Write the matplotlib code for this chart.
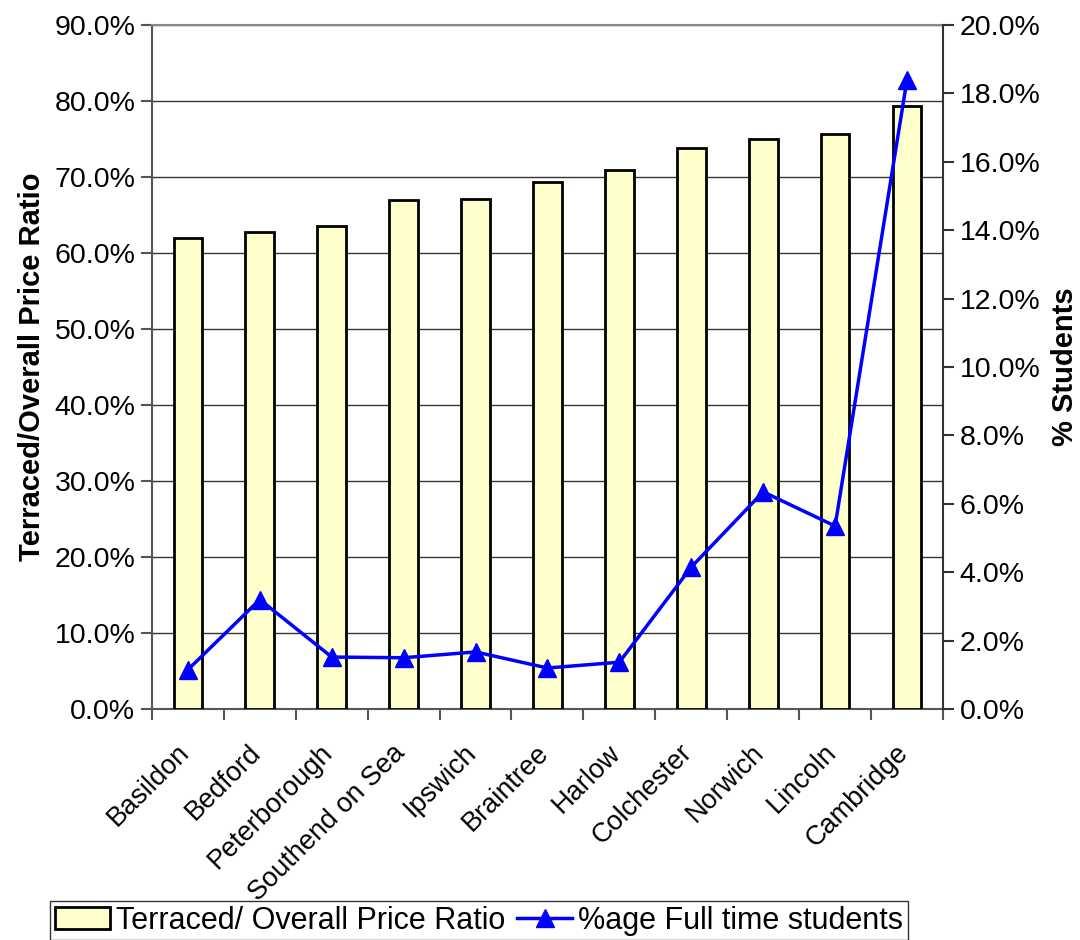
import matplotlib.pyplot as plt
from matplotlib.ticker import PercentFormatter, FixedLocator
from matplotlib.transforms import ScaledTranslation
import numpy as np

plt.rcParams['font.family'] = ['Liberation Sans', 'DejaVu Sans']

towns = ["Basildon", "Bedford", "Peterborough", "Southend on Sea", "Ipswich",
         "Braintree", "Harlow", "Colchester", "Norwich", "Lincoln", "Cambridge"]
price_ratio = [62.0, 62.7, 63.5, 67.0, 67.1, 69.3, 70.9, 73.8, 75.0, 75.7, 79.3]
students = [1.15, 3.2, 1.52, 1.5, 1.67, 1.2, 1.37, 4.15, 6.35, 5.35, 18.4]

fig = plt.figure(figsize=(10.8, 9.4), dpi=100)
ax = fig.add_axes([0.1407, 0.2457, 0.7324, 0.7277])
x = np.arange(len(towns))

bars = ax.bar(x, price_ratio, width=0.4, color="#FFFFCC", edgecolor="black",
              linewidth=2, zorder=3, label="Terraced/ Overall Price Ratio")
ax.set_ylim(0, 90)
ax.set_xlim(-0.5, len(towns) - 0.5)
ax.yaxis.set_major_locator(FixedLocator(np.arange(0, 91, 10)))
ax.yaxis.set_major_formatter(PercentFormatter(decimals=1))
ax.grid(axis="y", color="#333333", linewidth=1, zorder=0)
ax.set_axisbelow(True)

ax.set_xticks(x)
ax.set_xticklabels(towns, rotation=45, ha="right", rotation_mode="anchor", fontsize=19.5)
ax.tick_params(axis="x", which="major", length=0, pad=22)
# nudge the rotated labels a bit to the left, like the original
shift = ScaledTranslation(-0.12, 0, fig.dpi_scale_trans)
for lbl in ax.get_xticklabels():
    lbl.set_transform(lbl.get_transform() + shift)
ax.set_xticks(np.arange(-0.5, len(towns)), minor=True)
ax.tick_params(axis="x", which="minor", length=8, width=1.5, color="#555555")
ax.tick_params(axis="y", labelsize=20.5, length=8, width=1.5, color="#555555", pad=4)
ax.set_ylabel("Terraced/Overall Price Ratio", fontsize=21, fontweight="bold", labelpad=6)

for side in ["left", "bottom"]:
    ax.spines[side].set_color("#555555")
    ax.spines[side].set_linewidth(1.5)
ax.spines["top"].set_color("#888888")
ax.spines["top"].set_linewidth(1.5)
ax.spines["right"].set_visible(False)

ax2 = ax.twinx()
line, = ax2.plot(x, students, color="blue", linewidth=2.5, marker="^",
                 markersize=13, zorder=4, label="%age Full time students")
ax2.set_ylim(0, 20)
ax2.yaxis.set_major_locator(FixedLocator(np.arange(0, 21, 2)))
ax2.yaxis.set_major_formatter(PercentFormatter(decimals=1))
ax2.tick_params(axis="y", labelsize=20.5, length=8, width=1.5, color="#333333", pad=4)
ax2.set_ylabel("% Students", fontsize=21, fontweight="bold", labelpad=8)
for side in ["left", "top", "bottom"]:
    ax2.spines[side].set_visible(False)
ax2.spines["right"].set_color("#333333")
ax2.spines["right"].set_linewidth(1.5)

leg = fig.legend([bars, line], [bars.get_label(), line.get_label()],
                 loc="upper left", bbox_to_anchor=(50 / 1080, 1 - 901 / 940),
                 ncol=2, fontsize=22, frameon=True, fancybox=False,
                 edgecolor="black", handlelength=1.8, handletextpad=0.2,
                 columnspacing=0.4, borderpad=0.15, borderaxespad=0)
leg.get_frame().set_linewidth(1)

fig.savefig("out.png", dpi=100)
